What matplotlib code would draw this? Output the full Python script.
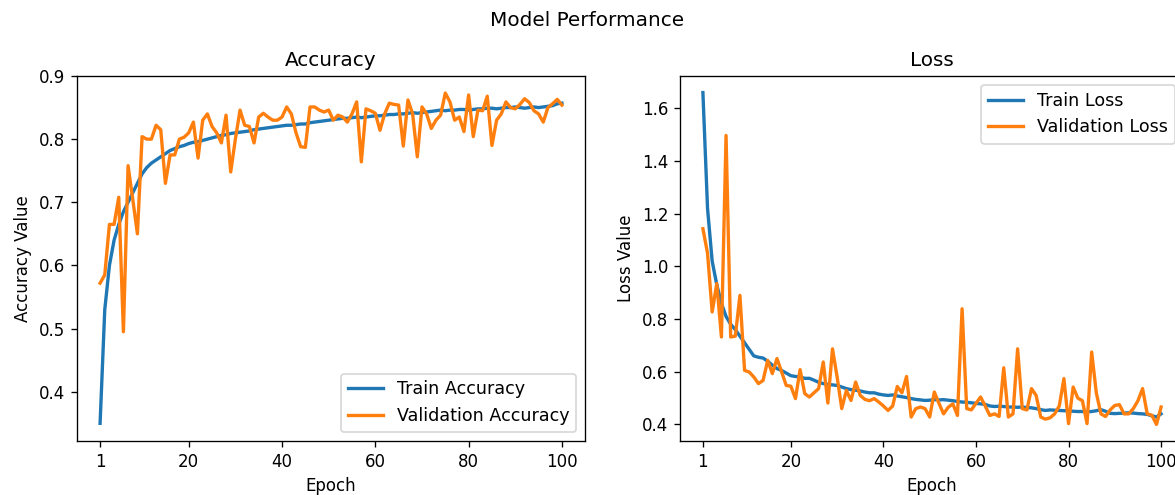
import matplotlib
matplotlib.use("Agg")
import matplotlib.pyplot as plt

epochs = list(range(1, 101))

train_acc = [0.35, 0.53, 0.60, 0.64, 0.665, 0.685, 0.70, 0.715, 0.73, 0.745,
             0.755, 0.762, 0.767, 0.772, 0.777, 0.782, 0.785, 0.788, 0.79, 0.793,
             0.795, 0.796, 0.798, 0.80, 0.802, 0.804, 0.806, 0.807, 0.809, 0.81,
             0.811, 0.812, 0.813, 0.815, 0.816, 0.817, 0.818, 0.819, 0.82, 0.821,
             0.822, 0.822, 0.823, 0.824, 0.824, 0.826, 0.827, 0.828, 0.829, 0.83,
             0.831, 0.832, 0.833, 0.833, 0.834, 0.835, 0.834, 0.835, 0.836, 0.837,
             0.837, 0.838, 0.839, 0.839, 0.84, 0.84, 0.841, 0.842, 0.841, 0.842,
             0.843, 0.844, 0.845, 0.846, 0.845, 0.846, 0.846, 0.847, 0.847, 0.846,
             0.847, 0.848, 0.848, 0.849, 0.849, 0.848, 0.849, 0.85, 0.85, 0.851,
             0.85, 0.849, 0.85, 0.851, 0.85, 0.851, 0.852, 0.853, 0.856, 0.857]

val_acc = [0.572, 0.585, 0.665, 0.665, 0.708, 0.495, 0.758, 0.705, 0.65, 0.804,
           0.80, 0.80, 0.822, 0.815, 0.73, 0.775, 0.775, 0.80, 0.803, 0.81,
           0.827, 0.77, 0.83, 0.84, 0.82, 0.81, 0.794, 0.838, 0.748, 0.80,
           0.846, 0.822, 0.82, 0.794, 0.835, 0.841, 0.835, 0.83, 0.83, 0.835,
           0.851, 0.84, 0.81, 0.788, 0.787, 0.851, 0.851, 0.846, 0.843, 0.846,
           0.83, 0.838, 0.835, 0.827, 0.84, 0.859, 0.764, 0.848, 0.845, 0.841,
           0.814, 0.84, 0.857, 0.855, 0.854, 0.789, 0.862, 0.84, 0.772, 0.851,
           0.84, 0.817, 0.83, 0.838, 0.873, 0.859, 0.83, 0.835, 0.812, 0.87,
           0.804, 0.846, 0.845, 0.868, 0.79, 0.83, 0.84, 0.859, 0.85, 0.848,
           0.855, 0.864, 0.858, 0.845, 0.84, 0.827, 0.85, 0.856, 0.863, 0.854]

train_loss = [1.66, 1.22, 1.02, 0.93, 0.86, 0.81, 0.78, 0.76, 0.735, 0.71,
              0.685, 0.66, 0.655, 0.652, 0.64, 0.625, 0.612, 0.605, 0.595, 0.585,
              0.582, 0.58, 0.575, 0.575, 0.568, 0.56, 0.555, 0.552, 0.55, 0.548,
              0.542, 0.536, 0.532, 0.53, 0.527, 0.523, 0.52, 0.52, 0.515, 0.512,
              0.51, 0.512, 0.508, 0.505, 0.502, 0.498, 0.495, 0.493, 0.491, 0.492,
              0.494, 0.493, 0.494, 0.492, 0.49, 0.487, 0.485, 0.484, 0.482, 0.48,
              0.478, 0.476, 0.47, 0.468, 0.469, 0.468, 0.466, 0.466, 0.465, 0.466,
              0.464, 0.463, 0.46, 0.456, 0.453, 0.455, 0.454, 0.453, 0.452, 0.452,
              0.45, 0.449, 0.449, 0.448, 0.449, 0.452, 0.456, 0.45, 0.442, 0.441,
              0.442, 0.443, 0.444, 0.443, 0.441, 0.44, 0.438, 0.433, 0.428, 0.44]

val_loss = [1.143, 1.05, 0.827, 0.935, 0.732, 1.497, 0.732, 0.735, 0.89, 0.605,
            0.599, 0.58, 0.555, 0.567, 0.643, 0.593, 0.65, 0.60, 0.548, 0.545,
            0.498, 0.608, 0.517, 0.504, 0.52, 0.536, 0.637, 0.481, 0.687, 0.58,
            0.46, 0.529, 0.491, 0.561, 0.51, 0.495, 0.49, 0.498, 0.485, 0.47,
            0.453, 0.47, 0.544, 0.52, 0.582, 0.428, 0.46, 0.466, 0.46, 0.428,
            0.523, 0.48, 0.44, 0.465, 0.478, 0.434, 0.839, 0.46, 0.455, 0.48,
            0.504, 0.47, 0.434, 0.44, 0.43, 0.615, 0.428, 0.44, 0.687, 0.46,
            0.455, 0.536, 0.51, 0.428, 0.42, 0.425, 0.44, 0.47, 0.574, 0.403,
            0.542, 0.50, 0.49, 0.403, 0.675, 0.52, 0.44, 0.43, 0.455, 0.472,
            0.475, 0.44, 0.44, 0.46, 0.49, 0.536, 0.44, 0.435, 0.40, 0.466]

x_ticks = [1, 20, 40, 60, 80, 100]

W, H = 1175, 495
dpi = 120
fig = plt.figure(figsize=(W / dpi, H / dpi), dpi=dpi)

ax1 = fig.add_axes([77 / W, 1 - 441 / H, 508 / W, 365 / H])
ax2 = fig.add_axes([680 / W, 1 - 441 / H, 504 / W, 365 / H])

ax1.plot(epochs, train_acc, label='Train Accuracy', lw=2)
ax1.plot(epochs, val_acc, label='Validation Accuracy', lw=2)
ax1.set_xticks(x_ticks)
ax1.set_ylim(0.322, 0.9)
ax1.set_ylabel('Accuracy Value')
ax1.set_xlabel('Epoch')
ax1.set_title('Accuracy')
ax1.legend(loc='lower right', fontsize=10.5)

ax2.plot(epochs, train_loss, label='Train Loss', lw=2)
ax2.plot(epochs, val_loss, label='Validation Loss', lw=2)
ax2.set_xticks(x_ticks)
ax2.set_ylabel('Loss Value')
ax2.set_xlabel('Epoch')
ax2.set_title('Loss')
ax2.legend(loc='upper right', fontsize=10.5)

fig.suptitle('Model Performance', y=1 - 20 / H, va='center')

fig.savefig('out.png', dpi=dpi)
